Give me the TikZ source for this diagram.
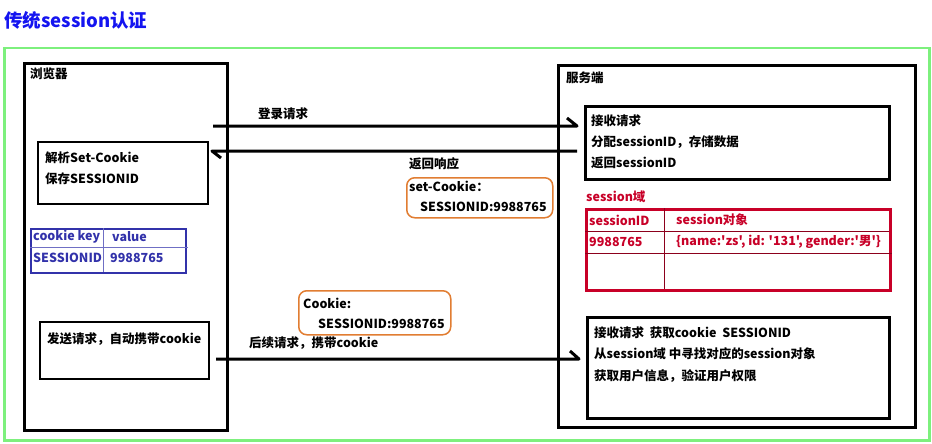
\documentclass[tikz,border=0pt]{standalone}
\usepackage{fontspec}
\newfontfamily\mainf{Noto Sans CJK SC}
\usetikzlibrary{arrows.meta}
\definecolor{titleblue}{RGB}{20,20,240}
\definecolor{frameg}{RGB}{125,240,125}
\definecolor{tblue}{RGB}{50,50,170}
\definecolor{tred}{RGB}{200,0,40}
\definecolor{orng}{RGB}{225,125,50}
\begin{document}
\begin{tikzpicture}[x=1pt,y=-1pt,
  font=\mainf\bfseries\fontsize{12.5}{15}\selectfont,
  txt/.style={inner sep=0pt, anchor=west},
  rbox/.style={draw, anchor=north west, inner sep=0pt},
  thick box/.style={rbox, line width=3pt},
  mid box/.style={rbox, line width=2pt},
  obox/.style={rbox, draw=orng, line width=1.5pt, rounded corners=8pt},
  harp/.style={line width=3pt, line join=round}
]
\useasboundingbox (0,0) rectangle (932,444);
\fill[white] (0,0) rectangle (932,444);

% title
\node[txt, text=titleblue, font=\mainf\bfseries\fontsize{18.5}{21}\selectfont] (title) at (4,20) {传统session认证};

% green frame
\node[rbox, draw=frameg, line width=2.5pt, minimum width=925, minimum height=392] (frame) at (3,47) {};

% browser
\node[thick box, minimum width=203, minimum height=367] (browser) at (23,62) {};
\node[txt] (blabel) at (30,74) {浏览器};
\node[mid box, minimum width=170, minimum height=62] (parse) at (37,141) {};
\node[txt] (p1) at (45,158) {解析Set-Cookie};
\node[txt] (p2) at (45,179) {保存SESSIONID};

% cookie table
\node[rbox, draw=tblue, line width=1.8pt, minimum width=155, minimum height=44] (ctab) at (30,228) {};
\draw[tblue!70, line width=0.8pt] (30,247) -- (188,247);
\draw[tblue!70, line width=0.8pt] (103,228) -- (103,272);
\begin{scope}[every node/.style={txt, text=tblue}]
\node (ck1) at (33,237) {cookie key};
\node (ck2) at (112,237) {value};
\node (ck3) at (33,258) {SESSIONID};
\node (ck4) at (110,258) {9988765};
\end{scope}

% send box
\node[mid box, minimum width=169, minimum height=57] (send) at (39,321) {};
\node[txt] (s1) at (47,339) {发送请求，自动携带cookie};

% server
\node[thick box, minimum width=357, minimum height=362] (server) at (557,64) {};
\node[txt] (slabel) at (566,78) {服务端};
\node[thick box, minimum width=304, minimum height=73] (recv) at (584,105) {};
\node[txt] (r1) at (591,121) {接收请求};
\node[txt] (r2) at (591,142) {分配sessionID，存储数据};
\node[txt] (r3) at (591,163) {返回sessionID};

% session domain
\node[txt, text=tred] (sdlabel) at (586,197) {session域};
\node[rbox, draw=tred, line width=2.5pt, minimum width=304, minimum height=81] (stab) at (585,208) {};
\draw[tred!70!black, line width=0.8pt] (585,231) -- (889,231);
\draw[tred!70!black, line width=0.8pt] (585,253) -- (892,253);
\draw[tred!70!black, line width=0.8pt] (664,208) -- (664,289);
\begin{scope}[every node/.style={txt, text=tred}]
\node (st1) at (589,220) {sessionID};
\node (st2) at (676,220) {session对象};
\node (st3) at (589,242) {9988765};
\node (st4) at (676,242) {\{name:'zs', id: '131', gender:'男'\}};
\end{scope}

% server box 3
\node[thick box, minimum width=302, minimum height=101] (verify) at (586,316) {};
\node[txt] (v1) at (594,333) {接收请求\ \ 获取cookie\ \ SESSIONID};
\node[txt] (v2) at (594,354) {从session域 中寻找对应的session对象};
\node[txt] (v3) at (594,376) {获取用户信息，验证用户权限};

% orange boxes
\node[txt] (resp) at (409,164) {返回响应};
\node[obox, minimum width=146, minimum height=40] (sc) at (406,177) {};
\node[txt] (sc1) at (409,186) {set-Cookie：};
\node[txt] (sc2) at (420,207) {SESSIONID:9988765};

\node[obox, minimum width=152, minimum height=44] (ck) at (298,290) {};
\node[txt] (ckl1) at (303,303) {Cookie:};
\node[txt] (ckl2) at (318,324) {SESSIONID:9988765};

% arrows
\node[txt] (loginl) at (258,114) {登录请求};
\node[txt] (nextl) at (249,343) {后续请求，携带cookie};
\coordinate (a1s) at (213,126);
\coordinate (a1e) at (577,126);
\coordinate (a2s) at (577,151);
\coordinate (a2e) at (212,151);
\coordinate (a3s) at (216,359);
\coordinate (a3e) at (579,359);
\draw[harp] (a1s) -- (a1e) -- ++(-10,-8);
\draw[harp] (a2s) -- (a2e) -- ++(9,7);
\draw[harp] (a3s) -- (a3e) -- ++(-9,-8);
\end{tikzpicture}
\end{document}
